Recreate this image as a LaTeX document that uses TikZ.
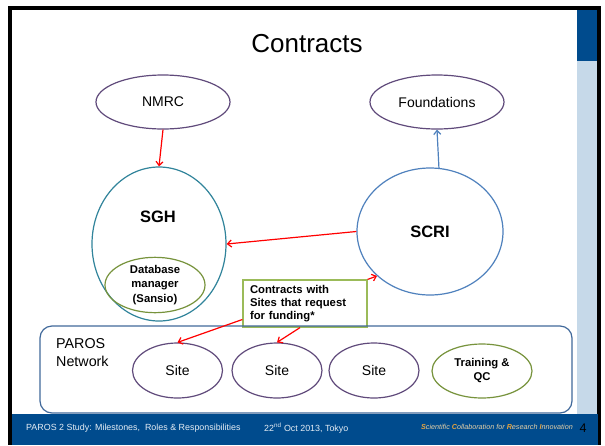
\documentclass[tikz,border=0pt]{standalone}
\usepackage{fontspec}
\setmainfont{Liberation Sans}
\usetikzlibrary{shapes.geometric,arrows.meta}
\definecolor{purp}{HTML}{604A7B}
\definecolor{teal}{HTML}{31849B}
\definecolor{sblue}{HTML}{4F81BD}
\definecolor{dgreen}{HTML}{77933C}
\definecolor{lgreen}{HTML}{9BBB59}
\definecolor{netblue}{HTML}{41699B}
\definecolor{footblue}{HTML}{004B8D}
\definecolor{barlight}{HTML}{C6D9E9}
\definecolor{foottext}{HTML}{E4ECF4}
\definecolor{orng}{HTML}{E8A33C}
\definecolor{tan}{HTML}{E2CFA8}
\begin{document}
\begin{tikzpicture}[x=1pt,y=-1pt,
  ell/.style={ellipse, draw=#1, line width=1.2pt, inner sep=0pt, align=center},
  redarr/.style={-{Straight Barb[length=4pt,width=7pt]}, line width=1.2pt, red},
  bluearr/.style={-{Straight Barb[length=4pt,width=7pt]}, line width=1.2pt, sblue},
  plain/.style={font=\fontsize{14}{17}\selectfont},
  boldsmall/.style={font=\bfseries\fontsize{11.3}{14.3}\selectfont},
  boldmid/.style={font=\bfseries\fontsize{16.5}{19}\selectfont},
  foot/.style={text=foottext, inner sep=0pt, font=\fontsize{8.9}{10}\selectfont}
]
\useasboundingbox (0,0) rectangle (605,445);
\fill[white] (0,0) rectangle (605,445);
% frame
\fill[black] (8,6) rectangle (601,445);
\fill[white] (12,10) rectangle (597,445);
% right bar
\fill[footblue] (577,10) rectangle (597,61);
\fill[barlight] (577,61) rectangle (597,414);
% footer
\fill[footblue] (12,414) rectangle (598,445);
\node[foot, anchor=west] (f1) at (26,428) {PAROS 2 Study: Milestones,\ \ Roles \& Responsibilities};
\node[foot, anchor=west] (f2) at (264,428) {22\textsuperscript{nd} Oct 2013, Tokyo};
\node[inner sep=0pt, anchor=east, font=\itshape\fontsize{7.2}{9}\selectfont, text=tan] (f3) at (573,427)
  {\textcolor{orng}{\bfseries S}cientific \textcolor{orng}{\bfseries C}ollaboration for \textcolor{orng}{\bfseries R}esearch \textcolor{orng}{\bfseries I}nnovation};
\node[inner sep=0pt, font=\fontsize{12.5}{14}\selectfont] (pg) at (583,428) {4};
% title
\node[font=\fontsize{26}{30}\selectfont] (title) at (307,44) {Contracts};
% top ellipses
\node[ell=purp, minimum width=134pt, minimum height=54pt, plain] (nmrc) at (163,102) {NMRC};
\node[ell=purp, minimum width=134pt, minimum height=54pt, plain] (found) at (437,102) {Foundations};
% SGH
\node[ell=teal, minimum width=134pt, minimum height=154pt] (sgh) at (159,244) {};
\node[boldmid, inner sep=0pt] (sghl) at (158,217) {SGH};
\node[ell=dgreen, minimum width=100pt, minimum height=50pt, boldsmall] (db) at (155,285) {Database\\manager\\(Sansio)};
% SCRI
\node[ell=sblue, minimum width=146pt, minimum height=127pt, boldmid] (scri) at (430,231.5) {SCRI};
% callout
\node[draw=lgreen, line width=1.2pt, fill=white, minimum width=124pt, minimum height=47pt,
  text width=110pt, inner xsep=7pt, align=left, boldsmall, font=\bfseries\fontsize{11.3}{13}\selectfont] (box) at (305,303.5)
  {Contracts with\\Sites that request\\for funding*};
% network
\node[draw=netblue, line width=1.2pt, rounded corners=12pt, minimum width=532pt, minimum height=87pt] (net) at (306,369.5) {};
\node[anchor=west, inner sep=0pt, align=left, font=\fontsize{14.3}{18}\selectfont] (parosl) at (56,353) {PAROS\\Network};
\node[ell=purp, minimum width=90pt, minimum height=55pt, plain] (s1) at (177.5,370.5) {Site};
\node[ell=purp, minimum width=90pt, minimum height=55pt, plain] (s2) at (277,370.5) {Site};
\node[ell=purp, minimum width=90pt, minimum height=55pt, plain] (s3) at (374,370.5) {Site};
\node[ell=dgreen, minimum width=100pt, minimum height=54pt, boldsmall, font=\bfseries\fontsize{11.3}{14}\selectfont] (tqc) at (482,371) {Training \&\\QC};
% connectors
\draw[redarr] (nmrc.south) -- (sgh.north);
\draw[redarr] (scri.west) -- (sgh.east);
\draw[bluearr] (scri.82) -- (found.south);
\draw[redarr] (box.north east) -- (scri.220);
\draw[redarr] ([yshift=-16pt]box.west) -- (s1.north);
\draw[redarr] ([xshift=-5pt]box.south) -- (s2.north);
\end{tikzpicture}
\end{document}
